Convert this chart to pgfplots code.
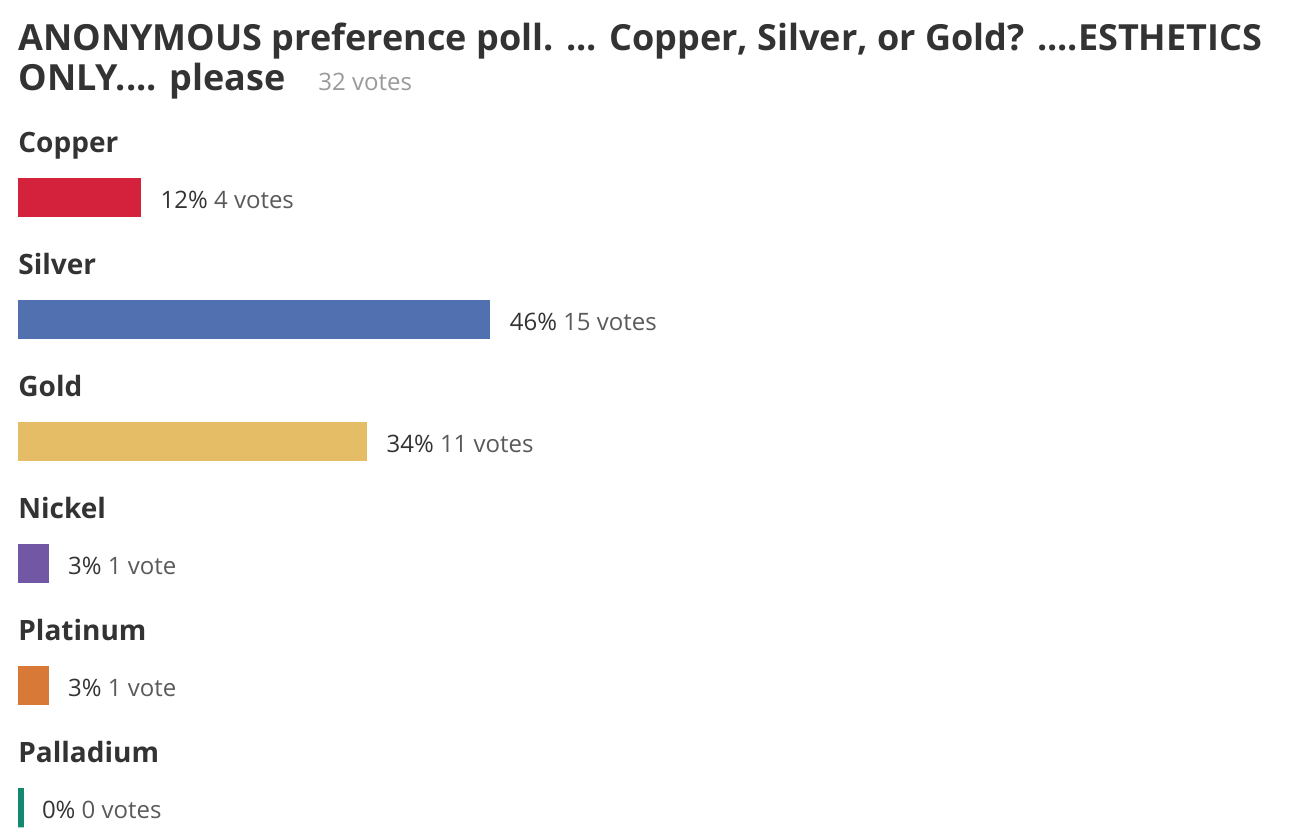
\documentclass[border=0pt]{standalone}
\usepackage{fontspec}
\setmainfont{Open Sans}
\usepackage{pgfplots}
\pgfplotsset{compat=1.18}
\definecolor{cCopper}{HTML}{D4223C}
\definecolor{cSilver}{HTML}{5070B0}
\definecolor{cGold}{HTML}{E4BD66}
\definecolor{cNickel}{HTML}{7257A4}
\definecolor{cPlat}{HTML}{D97937}
\definecolor{cPall}{HTML}{138A6F}
\definecolor{titledark}{HTML}{333333}
\definecolor{pctdark}{HTML}{333333}
\definecolor{valgray}{HTML}{5A5A5A}
\definecolor{countgray}{HTML}{999999}
\pgfplotsset{
  pollbar/.style={xbar, bar shift=0pt, bar width=19.65pt, draw=none, fill=#1,
    nodes near coords, point meta=explicit symbolic,
    every node near coord/.style={anchor=base west, inner sep=0pt, xshift=9.5pt, yshift=-5.25pt,
      font=\fontsize{12}{14}\selectfont, text=valgray}},
}
\begin{document}
\begin{tikzpicture}
\begin{axis}[
  x=5.135pt, y=61pt,
  xmin=-1.7527, xmax=124.635,
  ymin=-1.6213, ymax=5.2639,
  y dir=reverse,
  hide axis, clip=false,
]
\addplot[pollbar=cCopper] coordinates {(12,0) [{\textcolor{pctdark}{12\%} 4 votes}]};
\addplot[pollbar=cSilver] coordinates {(46,1) [{\textcolor{pctdark}{46\%} 15 votes}]};
\addplot[pollbar=cGold] coordinates {(34,2) [{\textcolor{pctdark}{34\%} 11 votes}]};
\addplot[pollbar=cNickel] coordinates {(3,3) [{\textcolor{pctdark}{3\%} 1 vote}]};
\addplot[pollbar=cPlat] coordinates {(3,4) [{\textcolor{pctdark}{3\%} 1 vote}]};
\addplot[pollbar=white, fill=none, draw=cPall, line width=3pt, line join=bevel, xshift=1.5pt,
  every node near coord/.append style={xshift=-0.5pt}]
  coordinates {(0,5) [{\textcolor{pctdark}{0\%} 0 votes}]};
% category labels
\addplot[draw=none, mark=none, nodes near coords, point meta=explicit symbolic,
  every node near coord/.style={anchor=base west, inner sep=0pt, yshift=22.9pt,
    font=\fontsize{14}{16}\selectfont\bfseries, text=titledark}]
  coordinates {(0,0)[Copper] (0,1)[Silver] (0,2)[Gold] (0,3)[Nickel] (0,4)[Platinum] (0,5)[Palladium]};
\end{axis}
\node[anchor=base west, inner sep=0pt, font=\fontsize{18}{21}\selectfont\bfseries, text=titledark]
  at ([xshift=9pt, yshift=-25.5pt]current axis.north west)
  {ANONYMOUS preference poll. ... Copper, Silver, or Gold? ....ESTHETICS};
\node[anchor=base west, inner sep=0pt, font=\fontsize{18}{21}\selectfont\bfseries, text=titledark]
  at ([xshift=9pt, yshift=-45.5pt]current axis.north west)
  {ONLY.... please};
\node[anchor=base west, inner sep=0pt, font=\fontsize{12}{14}\selectfont, text=countgray]
  at ([xshift=159pt, yshift=-45.5pt]current axis.north west)
  {32 votes};
\pgfresetboundingbox
\path (current axis.south west) rectangle (current axis.north east);
\end{tikzpicture}
\end{document}
